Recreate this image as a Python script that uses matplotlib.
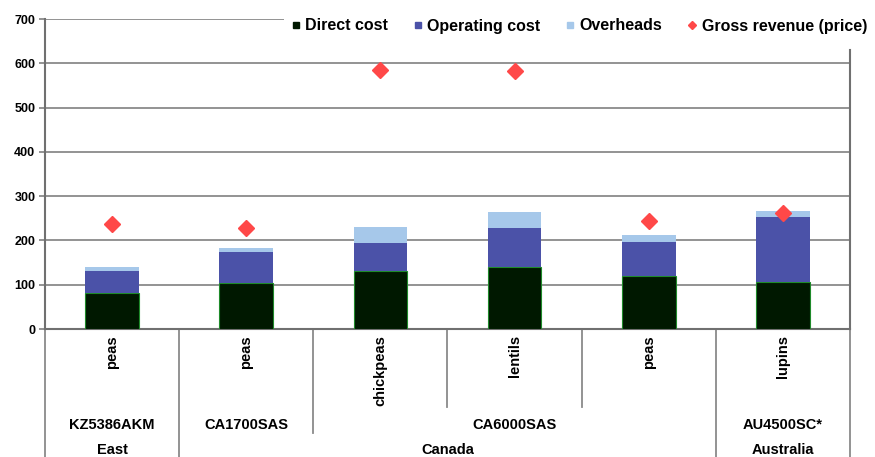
import numpy as np
import matplotlib
matplotlib.use('Agg')
from matplotlib import pyplot as plt
from matplotlib.lines import Line2D

plt.rcParams['font.family'] = ['Liberation Sans', 'DejaVu Sans']
plt.rcParams['font.weight'] = 'bold'
plt.rcParams['font.size'] = 9

crops = ['peas', 'peas', 'chickpeas', 'lentils', 'peas', 'lupins']
farms = ['KZ5386AKM', 'CA1700SAS', 'CA6000SAS', 'AU4500SC*']
farm_span = [(0, 0), (1, 1), (2, 4), (5, 5)]
countries = ['East', 'Canada', 'Australia']
country_span = [(0, 0), (1, 4), (5, 5)]

direct = [81, 104, 130, 141, 120, 107]
operating = [51, 69, 64, 88, 77, 147]
overheads = [7, 10, 36, 36, 15, 13]
revenue = [237, 227, 585, 582, 244, 261]

c_direct = '#001800'
c_oper = '#4b52a8'
c_over = '#a6c8ea'
c_rev = '#ff4848'
grid_c = '#8a8a8a'

fig = plt.figure(figsize=(8.75, 4.57), dpi=100)
ax = fig.add_axes([45/875, 128/457, 805/875, 310/457])

x = np.arange(len(crops))
w = 0.4
bot2 = np.array(direct) + np.array(operating)
ax.bar(x, direct, w, color=c_direct, edgecolor='#1f8a2a', linewidth=0.8, zorder=3)
ax.bar(x, operating, w, bottom=direct, color=c_oper, zorder=3)
ax.bar(x, overheads, w, bottom=bot2, color=c_over, zorder=3)
ax.plot(x, revenue, 'D', color=c_rev, markersize=8, linestyle='none', zorder=4)

ax.set_xlim(-0.5, len(crops) - 0.5)
ax.set_ylim(0, 700)
ax.set_yticks(np.arange(0, 701, 100))
ax.yaxis.grid(True, color=grid_c, linewidth=1.3, zorder=0)
ax.set_axisbelow(True)
ax.tick_params(axis='y', length=4, color=grid_c, width=1.3, pad=3, labelsize=9)
ax.tick_params(axis='x', length=0, labelbottom=False)
ax.spines['top'].set_visible(False)
for s in ['left', 'right', 'bottom']:
    ax.spines[s].set_color('#707070')
    ax.spines[s].set_linewidth(1.5)
# right border starts just under the legend
ax.spines['right'].set_bounds(0, 630)

# category table under the axis
tr = ax.get_xaxis_transform()
y_end = -128/310
y_lvl1 = -78/310
y_lvl2 = -104/310
for b in np.arange(-0.5, len(crops)):
    if b in (-0.5, 0.5, 4.5, 5.5):
        ye = y_end
    elif b == 1.5:
        ye = y_lvl2
    else:
        ye = y_lvl1
    ax.plot([b, b], [0, ye], color='#8a8a8a', lw=1.3, transform=tr, clip_on=False)

for i, c in enumerate(crops):
    ax.text(i, -6/310, c, rotation=90, ha='center', va='top', transform=tr, fontsize=10.5)
for f, (a, b) in zip(farms, farm_span):
    ax.text((a + b) / 2, -96/310, f, ha='center', va='center', transform=tr, fontsize=10.5)
for c, (a, b) in zip(countries, country_span):
    ax.text((a + b) / 2, -121/310, c, ha='center', va='center', transform=tr, fontsize=10.5)

handles = [
    Line2D([], [], marker='s', color=c_direct, linestyle='none', markersize=5),
    Line2D([], [], marker='s', color=c_oper, linestyle='none', markersize=5),
    Line2D([], [], marker='s', color=c_over, linestyle='none', markersize=5),
    Line2D([], [], marker='D', color=c_rev, linestyle='none', markersize=4),
]
labels = ['Direct cost', 'Operating cost', 'Overheads', 'Gross revenue (price)']
leg = fig.legend(handles, labels, loc='center right', bbox_to_anchor=(1.009, 1 - 26/457), ncol=4,
                 frameon=True, facecolor='white', edgecolor='none', framealpha=1,
                 fancybox=False, handlelength=0.5, handletextpad=0.35, columnspacing=1.6,
                 borderpad=0.5, prop={'weight': 'bold', 'size': 11.5})

fig.savefig('out.png', dpi=100)
